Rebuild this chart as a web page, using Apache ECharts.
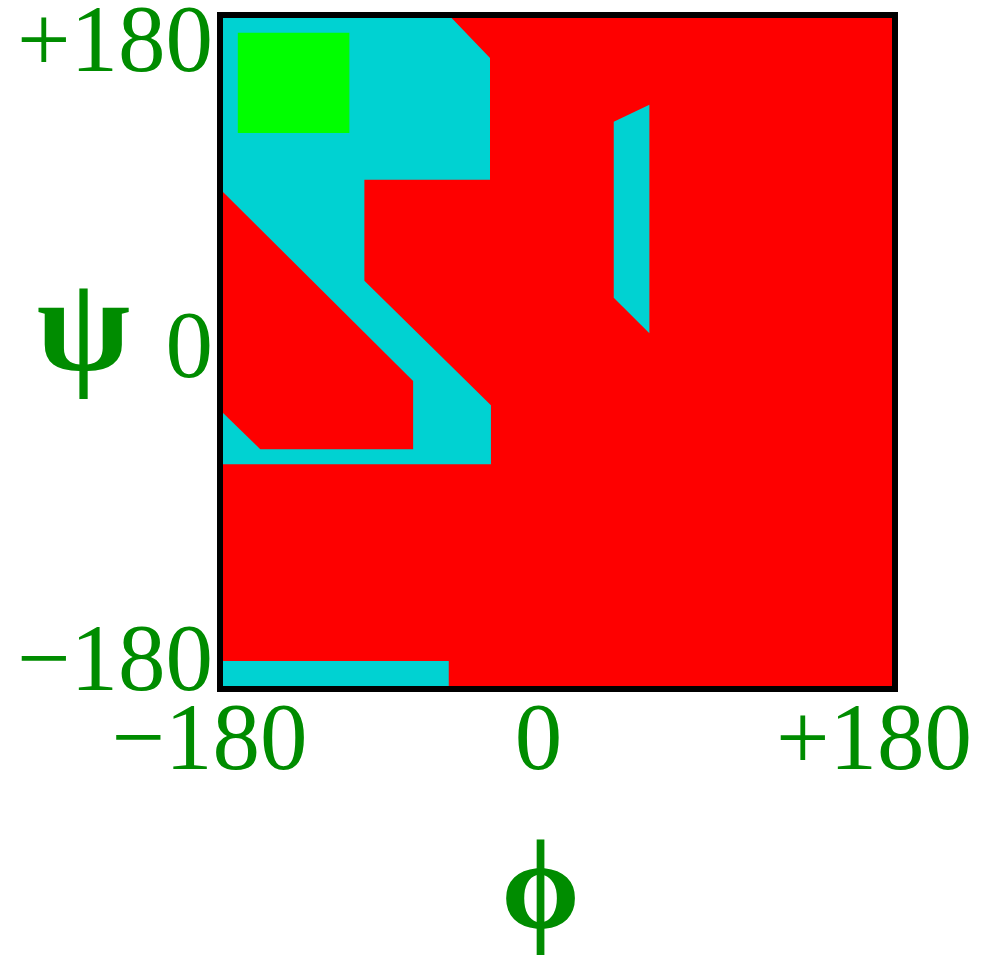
<!DOCTYPE html>
<html>
<head>
<meta charset="utf-8">
<title>Ramachandran map</title>
<script src="https://cdn.jsdelivr.net/npm/echarts@6/dist/echarts.min.js"></script>
<style>
  html, body { margin: 0; padding: 0; background: #ffffff; }
  #chart { width: 981px; height: 962px; }
</style>
</head>
<body>
<div id="chart"></div>
<script>
// Backbone dihedral regions (phi, psi in degrees), painted back to front.
const disallowedRegion = [[-180, -180], [180, -180], [180, 180], [-180, 180]];
const allowedUpperLeft = [
  [-180, 180], [-58, 180], [-36, 157], [-36, 92], [-103, 92], [-103, 38],
  [-35.5, -28.5], [-35.5, -60], [-180, -60]
];
const disallowedPocket = [[-180, 87], [-77, -15.5], [-77, -52], [-158.5, -52], [-180, -31]];
const allowedLeftHanded = [[30, 123], [49, 132], [49, 10], [30, 29]];
const allowedWrapBottom = [[-180, -180], [-58, -180], [-58, -165], [-180, -165]];
const fullyAllowedCore = [[-170.5, 170.5], [-111, 170.5], [-111, 117], [-170.5, 117]];

const tickValues = [-180, 0, 180];
const tickText = ['−180', '0', '+180'];

const RED = '#fe0000';
const CYAN = '#00d2d2';
const GREEN = '#00ff00';
const TEXT_GREEN = '#008c00';
const SERIF = 'Liberation Serif';

const layers = [
  { name: 'disallowed', points: disallowedRegion, color: RED },
  { name: 'allowed', points: allowedUpperLeft, color: CYAN },
  { name: 'disallowed pocket', points: disallowedPocket, color: RED },
  { name: 'left-handed', points: allowedLeftHanded, color: CYAN },
  { name: 'allowed (wrap)', points: allowedWrapBottom, color: CYAN },
  { name: 'fully allowed', points: fullyAllowedCore, color: GREEN }
];

function polygonRenderer(points, color) {
  return function (params, api) {
    return {
      type: 'polygon',
      shape: { points: points.map(function (p) { return api.coord(p); }) },
      style: { fill: color, stroke: null }
    };
  };
}

function tickLabel(v) {
  const i = tickValues.indexOf(v);
  return i >= 0 ? tickText[i] : '';
}

const frameLine = { show: true, onZero: false, lineStyle: { color: '#000000', width: 6, cap: 'square' } };
const labelBase = { fontFamily: SERIF, fontSize: 95, color: TEXT_GREEN, lineHeight: 64 };

const option = {
  animation: false,
  backgroundColor: '#ffffff',
  grid: { left: 220, top: 15, width: 675, height: 674, containLabel: false, outerBoundsMode: 'none' },
  xAxis: [
    {
      type: 'value', min: -180, max: 180, interval: 180, position: 'bottom', z: 10,
      axisLine: frameLine, axisTick: { show: false }, splitLine: { show: false },
      axisLabel: {
        margin: 23,
        formatter: function (v) {
          if (v < 0) return '{m|' + tickLabel(v) + '}';
          if (v > 0) return '{p|' + tickLabel(v) + '}';
          return '{z|' + tickLabel(v) + '}';
        },
        rich: {
          m: Object.assign({ padding: [0, 21, 0, 0] }, labelBase),
          z: Object.assign({ padding: [0, 38, 0, 0] }, labelBase),
          p: Object.assign({ padding: [0, 42, 0, 0] }, labelBase)
        }
      },
      name: 'ϕ', nameLocation: 'middle', nameGap: 143, nameMoveOverlap: false,
      nameTextStyle: { fontFamily: SERIF, fontWeight: 'bold', fontSize: 126, color: TEXT_GREEN, padding: [0, 34, 0, 0] }
    },
    {
      type: 'value', min: -180, max: 180, interval: 180, position: 'top', z: 10,
      axisLine: frameLine, axisTick: { show: false }, splitLine: { show: false }, axisLabel: { show: false }
    }
  ],
  yAxis: [
    {
      type: 'value', min: -180, max: 180, interval: 180, position: 'left', z: 10,
      axisLine: frameLine, axisTick: { show: false }, splitLine: { show: false },
      axisLabel: {
        margin: 7,
        formatter: function (v) {
          if (v < 0) return '{b|' + tickLabel(v) + '}';
          if (v > 0) return '{t|' + tickLabel(v) + '}';
          return '{c|' + tickLabel(v) + '}';
        },
        rich: {
          t: Object.assign({ padding: [62, 0, 0, 0] }, labelBase),
          c: Object.assign({}, labelBase),
          b: Object.assign({ padding: [0, 0, 48, 0] }, labelBase)
        }
      },
      name: '{psi|ψ}', nameLocation: 'middle', nameRotate: 0, nameGap: 90, nameMoveOverlap: false,
      nameTextStyle: {
        fontFamily: SERIF, fontWeight: 'bold', fontSize: 136, color: TEXT_GREEN,
        rich: {
          psi: { fontFamily: SERIF, fontWeight: 'bold', fontSize: 136, color: TEXT_GREEN, padding: [0, 0, 34, 0] }
        }
      }
    },
    {
      type: 'value', min: -180, max: 180, interval: 180, position: 'right', z: 10,
      axisLine: frameLine, axisTick: { show: false }, splitLine: { show: false }, axisLabel: { show: false }
    }
  ],
  series: layers.map(function (layer, i) {
    return {
      type: 'custom',
      name: layer.name,
      coordinateSystem: 'cartesian2d',
      xAxisIndex: 0,
      yAxisIndex: 0,
      silent: true,
      z: 1 + i,
      data: [0],
      renderItem: polygonRenderer(layer.points, layer.color)
    };
  })
};

const chart = echarts.init(document.getElementById('chart'), null, { renderer: 'canvas' });
chart.setOption(option);
</script>
</body>
</html>
